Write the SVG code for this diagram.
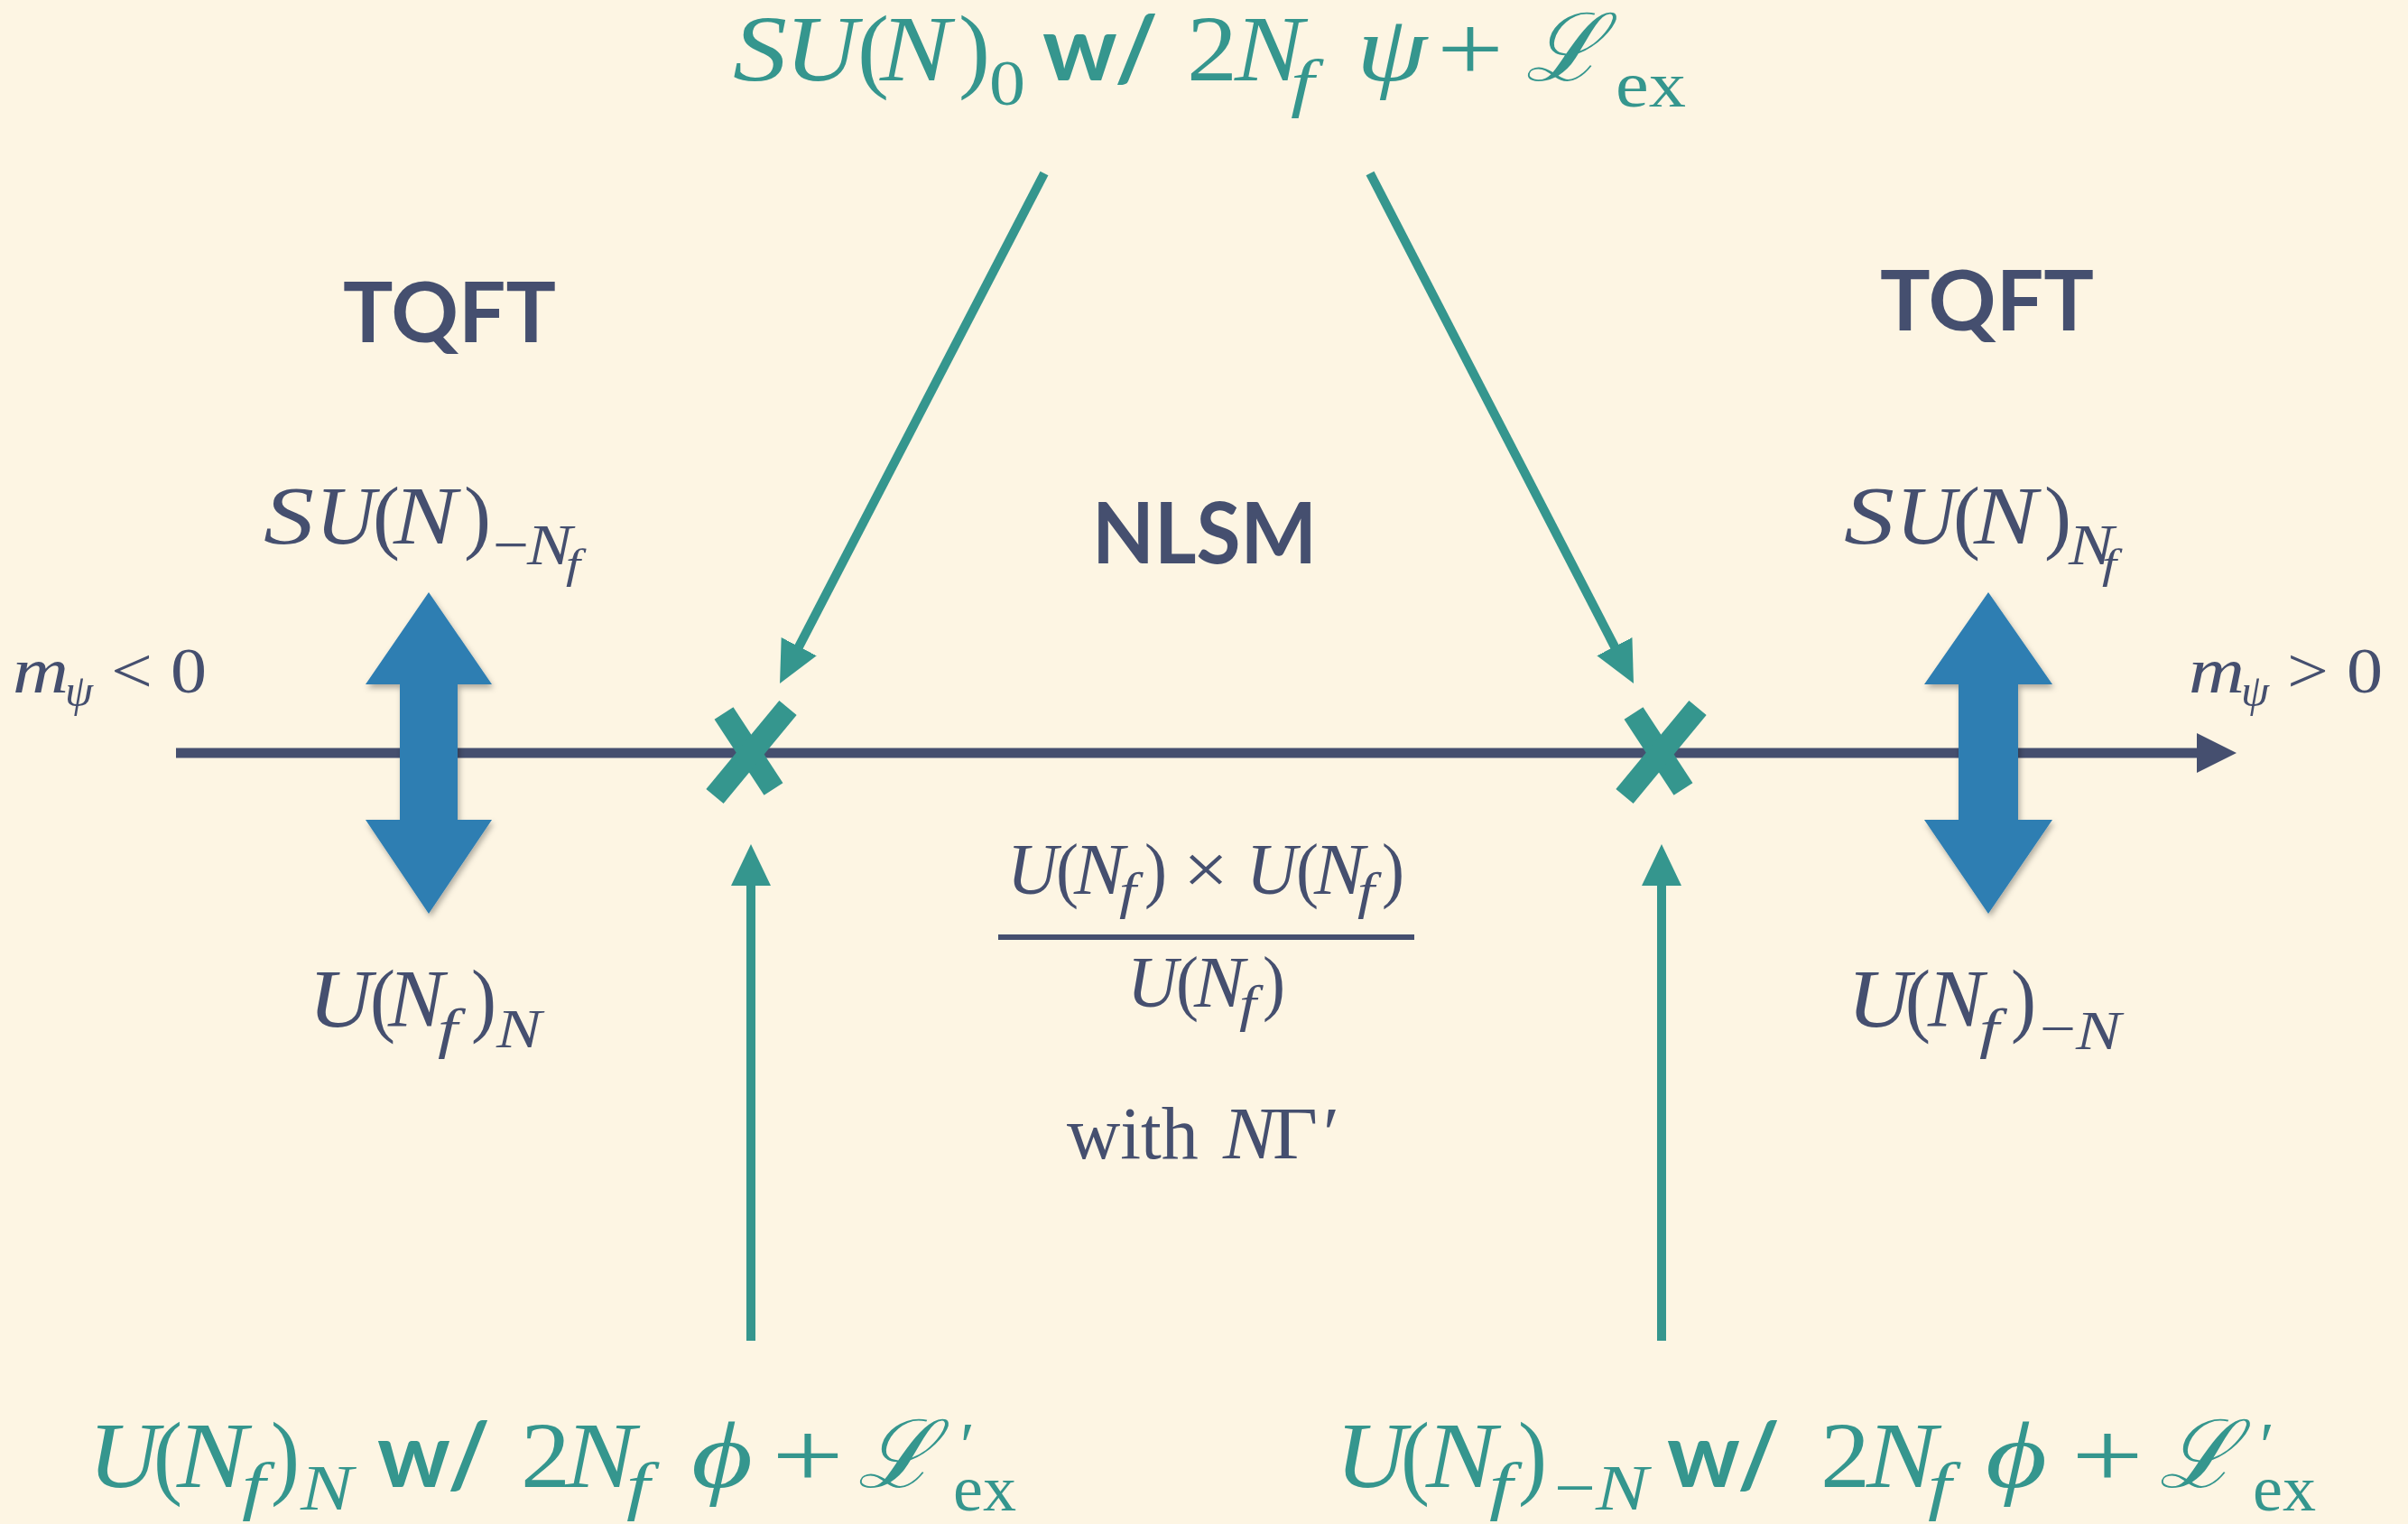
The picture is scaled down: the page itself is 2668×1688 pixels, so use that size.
<svg xmlns="http://www.w3.org/2000/svg" width="2668" height="1688" viewBox="0 0 2668 1688">
<defs>
<style>
.m{font-family:'Liberation Serif','DejaVu Serif',serif;}
.i{font-style:italic}
.s{font-family:Lato,'Open Sans','Liberation Sans',sans-serif;font-weight:700}
.cal{font-family:'DejaVu Serif','Liberation Serif',serif;font-style:italic}
.navy{fill:#454F6F}
.teal{fill:#35968E}
.conn{stroke:#35968E;stroke-width:10;fill:none}
.xm{stroke:#35968E;stroke-width:25;stroke-linecap:butt}
.big{fill:#2E7EB2}
</style>
<marker id="ah" markerUnits="userSpaceOnUse" markerWidth="46" markerHeight="44" refX="2" refY="22" orient="auto" viewBox="0 0 46 44">
<path d="M0,0 L46,22 L0,44 z" fill="#35968E"/>
</marker>
<filter id="sh" x="-30%" y="-10%" width="160%" height="130%">
<feDropShadow dx="2" dy="4" stdDeviation="3" flood-color="#000" flood-opacity="0.3"/>
</filter>
</defs>
<rect x="0" y="0" width="2668" height="1688" fill="#FDF5E3"/>

<g id="axis">
<line x1="195" y1="834" x2="2438" y2="834" stroke="#454F6F" stroke-width="11"/>
<polygon points="2434,812 2478,834 2434,856" fill="#454F6F"/>
</g>

<g id="arrow-left">
<polygon class="big" filter="url(#sh)" points="475,656 545,758 507,758 507,908 545,908 475,1012 405,908 443,908 443,758 405,758"/>
</g>
<g id="arrow-right">
<polygon class="big" filter="url(#sh)" points="2203,656 2274,758 2236,758 2236,908 2274,908 2203,1012 2132,908 2170,908 2170,758 2132,758"/>
</g>

<g id="cross-left">
<line class="xm" x1="802" y1="790" x2="857" y2="874"/>
<line class="xm" x1="873" y1="784" x2="792" y2="882"/>
</g>
<g id="cross-right">
<line class="xm" x1="1810" y1="790" x2="1865" y2="874"/>
<line class="xm" x1="1881" y1="784" x2="1800" y2="882"/>
</g>

<g id="connectors">
<line class="conn" x1="1157" y1="192" x2="884.3" y2="717.9" marker-end="url(#ah)"/>
<line class="conn" x1="1518" y1="192" x2="1789.8" y2="717.9" marker-end="url(#ah)"/>
<line class="conn" x1="832" y1="1485" x2="832" y2="979" marker-end="url(#ah)"/>
<line class="conn" x1="1841" y1="1485" x2="1841" y2="979" marker-end="url(#ah)"/>
</g>

<g id="top-formula">
<text class="m teal" font-size="104"><tspan class="i" x="812" y="89" textLength="60" lengthAdjust="spacingAndGlyphs">S</tspan><tspan class="i" x="870" y="89" textLength="80" lengthAdjust="spacingAndGlyphs">U</tspan><tspan x="950" y="89" textLength="35" lengthAdjust="spacingAndGlyphs">(</tspan><tspan class="i" x="975" y="89" textLength="78" lengthAdjust="spacingAndGlyphs">N</tspan><tspan x="1062" y="89" textLength="35" lengthAdjust="spacingAndGlyphs">)</tspan><tspan x="1096" y="116" font-size="72" textLength="40" lengthAdjust="spacingAndGlyphs">0</tspan><tspan x="1315" y="89" textLength="56" lengthAdjust="spacingAndGlyphs">2</tspan><tspan class="i" x="1368" y="89" textLength="76" lengthAdjust="spacingAndGlyphs">N</tspan><tspan class="i" x="1430" y="116" font-size="72" textLength="26" lengthAdjust="spacingAndGlyphs">f</tspan><tspan class="i" x="1503" y="89" textLength="78" lengthAdjust="spacingAndGlyphs">ψ</tspan><tspan x="1592" y="89" textLength="74" lengthAdjust="spacingAndGlyphs">+</tspan><tspan class="cal" x="1690" y="89">ℒ</tspan><tspan x="1790" y="118" font-size="72" textLength="78" lengthAdjust="spacingAndGlyphs">ex</tspan></text>
<text class="s teal" x="1155" y="89" font-size="100" textLength="128" lengthAdjust="spacingAndGlyphs">w/</text>
</g>

<g id="tqft-left">
<text class="s navy" x="380" y="379" font-size="92" textLength="236" lengthAdjust="spacingAndGlyphs">TQFT</text>
</g>
<g id="tqft-right">
<text class="s navy" x="2083" y="366" font-size="92" textLength="237" lengthAdjust="spacingAndGlyphs">TQFT</text>
</g>
<g id="nlsm">
<text class="s navy" x="1210" y="624" font-size="93" textLength="249" lengthAdjust="spacingAndGlyphs">NLSM</text>
</g>

<g id="su-left">
<text class="m navy" font-size="92"><tspan class="i" x="292" y="602" textLength="56" lengthAdjust="spacingAndGlyphs">S</tspan><tspan class="i" x="350" y="602" textLength="66" lengthAdjust="spacingAndGlyphs">U</tspan><tspan x="413" y="602" textLength="30" lengthAdjust="spacingAndGlyphs">(</tspan><tspan class="i" x="436" y="602" textLength="70" lengthAdjust="spacingAndGlyphs">N</tspan><tspan x="514" y="602" textLength="30" lengthAdjust="spacingAndGlyphs">)</tspan><tspan x="546" y="625" font-size="64" textLength="40" lengthAdjust="spacingAndGlyphs">−</tspan><tspan class="i" x="584" y="625" font-size="64" textLength="50" lengthAdjust="spacingAndGlyphs">N</tspan><tspan class="i" x="627" y="640" font-size="46" textLength="16" lengthAdjust="spacingAndGlyphs">f</tspan></text>
</g>
<g id="su-right">
<text class="m navy" font-size="92"><tspan class="i" x="2043" y="602" textLength="56" lengthAdjust="spacingAndGlyphs">S</tspan><tspan class="i" x="2101" y="602" textLength="66" lengthAdjust="spacingAndGlyphs">U</tspan><tspan x="2164" y="602" textLength="30" lengthAdjust="spacingAndGlyphs">(</tspan><tspan class="i" x="2187" y="602" textLength="70" lengthAdjust="spacingAndGlyphs">N</tspan><tspan x="2265" y="602" textLength="30" lengthAdjust="spacingAndGlyphs">)</tspan><tspan class="i" x="2292" y="625" font-size="64" textLength="50" lengthAdjust="spacingAndGlyphs">N</tspan><tspan class="i" x="2329" y="640" font-size="46" textLength="16" lengthAdjust="spacingAndGlyphs">f</tspan></text>
</g>

<g id="m-left">
<text class="m navy" font-size="72"><tspan class="i" x="14" y="767" textLength="62" lengthAdjust="spacingAndGlyphs">m</tspan><tspan class="i" x="72" y="782" font-size="50">ψ</tspan><tspan x="123" y="767" textLength="46" lengthAdjust="spacingAndGlyphs">&lt;</tspan><tspan x="189" y="767" textLength="40" lengthAdjust="spacingAndGlyphs">0</tspan></text>
</g>
<g id="m-right">
<text class="m navy" font-size="72"><tspan class="i" x="2425" y="767" textLength="62" lengthAdjust="spacingAndGlyphs">m</tspan><tspan class="i" x="2483" y="782" font-size="50">ψ</tspan><tspan x="2534" y="767" textLength="46" lengthAdjust="spacingAndGlyphs">&gt;</tspan><tspan x="2600" y="767" textLength="40" lengthAdjust="spacingAndGlyphs">0</tspan></text>
</g>

<g id="u-left">
<text class="m navy" font-size="90"><tspan class="i" x="342" y="1137" textLength="70" lengthAdjust="spacingAndGlyphs">U</tspan><tspan x="410" y="1137" textLength="28" lengthAdjust="spacingAndGlyphs">(</tspan><tspan class="i" x="430" y="1137" textLength="62" lengthAdjust="spacingAndGlyphs">N</tspan><tspan class="i" x="485" y="1160" font-size="62" textLength="22" lengthAdjust="spacingAndGlyphs">f</tspan><tspan x="522" y="1137" textLength="28" lengthAdjust="spacingAndGlyphs">)</tspan><tspan class="i" x="550" y="1160" font-size="62" textLength="50" lengthAdjust="spacingAndGlyphs">N</tspan></text>
</g>
<g id="u-right">
<text class="m navy" font-size="90"><tspan class="i" x="2047" y="1137" textLength="70" lengthAdjust="spacingAndGlyphs">U</tspan><tspan x="2111" y="1137" textLength="28" lengthAdjust="spacingAndGlyphs">(</tspan><tspan class="i" x="2136" y="1137" textLength="62" lengthAdjust="spacingAndGlyphs">N</tspan><tspan class="i" x="2193" y="1160" font-size="62" textLength="22" lengthAdjust="spacingAndGlyphs">f</tspan><tspan x="2228" y="1137" textLength="28" lengthAdjust="spacingAndGlyphs">)</tspan><tspan x="2260" y="1160" font-size="62" textLength="40" lengthAdjust="spacingAndGlyphs">−</tspan><tspan class="i" x="2300" y="1162" font-size="62" textLength="50" lengthAdjust="spacingAndGlyphs">N</tspan></text>
</g>

<g id="coset">
<text class="m navy" font-size="80"><tspan class="i" x="1116" y="990" textLength="56" lengthAdjust="spacingAndGlyphs">U</tspan><tspan x="1170" y="990" textLength="25" lengthAdjust="spacingAndGlyphs">(</tspan><tspan class="i" x="1190" y="990" textLength="56" lengthAdjust="spacingAndGlyphs">N</tspan><tspan class="i" x="1240" y="1006" font-size="56" textLength="19" lengthAdjust="spacingAndGlyphs">f</tspan><tspan x="1268" y="990" textLength="25" lengthAdjust="spacingAndGlyphs">)</tspan><tspan x="1311" y="990" textLength="50" lengthAdjust="spacingAndGlyphs">×</tspan><tspan class="i" x="1381" y="990" textLength="56" lengthAdjust="spacingAndGlyphs">U</tspan><tspan x="1436" y="990" textLength="25" lengthAdjust="spacingAndGlyphs">(</tspan><tspan class="i" x="1456" y="990" textLength="56" lengthAdjust="spacingAndGlyphs">N</tspan><tspan class="i" x="1504" y="1006" font-size="56" textLength="19" lengthAdjust="spacingAndGlyphs">f</tspan><tspan x="1531" y="990" textLength="25" lengthAdjust="spacingAndGlyphs">)</tspan></text>
<line x1="1106" y1="1038" x2="1567" y2="1038" stroke="#454F6F" stroke-width="6"/>
<text class="m navy" font-size="80"><tspan class="i" x="1249" y="1115" textLength="56" lengthAdjust="spacingAndGlyphs">U</tspan><tspan x="1303" y="1115" textLength="25" lengthAdjust="spacingAndGlyphs">(</tspan><tspan class="i" x="1323" y="1115" textLength="56" lengthAdjust="spacingAndGlyphs">N</tspan><tspan class="i" x="1373" y="1131" font-size="56" textLength="19" lengthAdjust="spacingAndGlyphs">f</tspan><tspan x="1399" y="1115" textLength="25" lengthAdjust="spacingAndGlyphs">)</tspan></text>
<text class="m navy" font-size="82"><tspan x="1182" y="1283">with</tspan><tspan class="i" x="1355" y="1283" textLength="58" lengthAdjust="spacingAndGlyphs">N</tspan><tspan x="1410" y="1283" textLength="50" lengthAdjust="spacingAndGlyphs">Γ</tspan><tspan x="1466" y="1283">′</tspan></text>
</g>

<g id="bottom-left-formula">
<text class="m teal" font-size="104"><tspan class="i" x="98" y="1647" textLength="78" lengthAdjust="spacingAndGlyphs">U</tspan><tspan x="170" y="1647" textLength="32" lengthAdjust="spacingAndGlyphs">(</tspan><tspan class="i" x="196" y="1647" textLength="78" lengthAdjust="spacingAndGlyphs">N</tspan><tspan class="i" x="268" y="1670" font-size="72" textLength="26" lengthAdjust="spacingAndGlyphs">f</tspan><tspan x="300" y="1647" textLength="32" lengthAdjust="spacingAndGlyphs">)</tspan><tspan class="i" x="333" y="1672" font-size="72" textLength="58" lengthAdjust="spacingAndGlyphs">N</tspan><tspan x="577" y="1647" textLength="55" lengthAdjust="spacingAndGlyphs">2</tspan><tspan class="i" x="626" y="1647" textLength="78" lengthAdjust="spacingAndGlyphs">N</tspan><tspan class="i" x="694" y="1670" font-size="72" textLength="26" lengthAdjust="spacingAndGlyphs">f</tspan><tspan class="i" x="766" y="1647" textLength="68" lengthAdjust="spacingAndGlyphs">ϕ</tspan><tspan x="855" y="1647" textLength="80" lengthAdjust="spacingAndGlyphs">+</tspan><tspan class="cal" x="950" y="1647">ℒ</tspan><tspan x="1064" y="1625" font-size="72">′</tspan><tspan x="1056" y="1673" font-size="72" textLength="70" lengthAdjust="spacingAndGlyphs">ex</tspan></text>
<text class="s teal" x="418" y="1647" font-size="100" textLength="125" lengthAdjust="spacingAndGlyphs">w/</text>
</g>

<g id="bottom-right-formula">
<text class="m teal" font-size="104"><tspan class="i" x="1480" y="1647" textLength="78" lengthAdjust="spacingAndGlyphs">U</tspan><tspan x="1552" y="1647" textLength="32" lengthAdjust="spacingAndGlyphs">(</tspan><tspan class="i" x="1580" y="1647" textLength="78" lengthAdjust="spacingAndGlyphs">N</tspan><tspan class="i" x="1650" y="1670" font-size="72" textLength="26" lengthAdjust="spacingAndGlyphs">f</tspan><tspan x="1682" y="1647" textLength="32" lengthAdjust="spacingAndGlyphs">)</tspan><tspan x="1722" y="1672" font-size="72" textLength="46" lengthAdjust="spacingAndGlyphs">−</tspan><tspan class="i" x="1768" y="1672" font-size="72" textLength="58" lengthAdjust="spacingAndGlyphs">N</tspan><tspan x="2017" y="1647" textLength="55" lengthAdjust="spacingAndGlyphs">2</tspan><tspan class="i" x="2068" y="1647" textLength="78" lengthAdjust="spacingAndGlyphs">N</tspan><tspan class="i" x="2136" y="1670" font-size="72" textLength="26" lengthAdjust="spacingAndGlyphs">f</tspan><tspan class="i" x="2200" y="1647" textLength="68" lengthAdjust="spacingAndGlyphs">ϕ</tspan><tspan x="2295" y="1647" textLength="80" lengthAdjust="spacingAndGlyphs">+</tspan><tspan class="cal" x="2392" y="1647">ℒ</tspan><tspan x="2504" y="1625" font-size="72">′</tspan><tspan x="2496" y="1673" font-size="72" textLength="70" lengthAdjust="spacingAndGlyphs">ex</tspan></text>
<text class="s teal" x="1847" y="1647" font-size="100" textLength="125" lengthAdjust="spacingAndGlyphs">w/</text>
</g>
</svg>
